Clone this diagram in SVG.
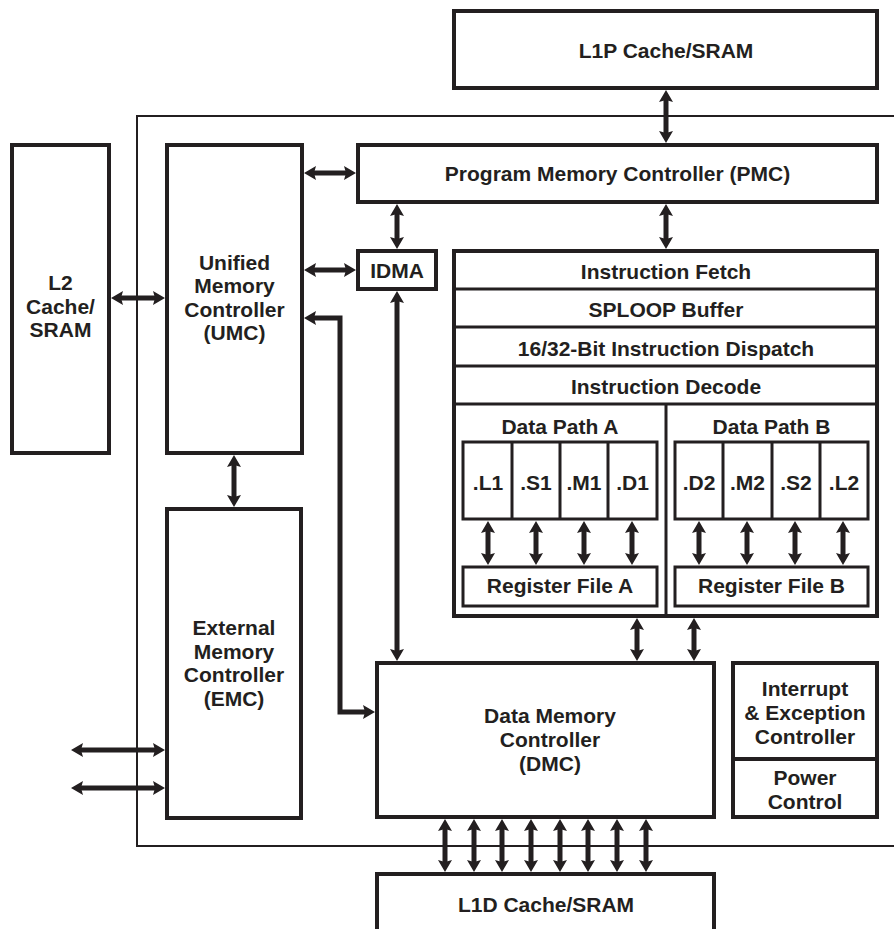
<svg xmlns="http://www.w3.org/2000/svg" width="894" height="929" viewBox="0 0 894 929">
<style>
.box{fill:#fff;stroke:#231f20;stroke-width:4;stroke-linejoin:miter}
.thin{fill:none;stroke:#231f20;stroke-width:3}
.row{fill:none;stroke:#231f20;stroke-width:3}
.t{font-family:"Liberation Sans",Arial,sans-serif;font-weight:bold;font-size:21px;fill:#231f20;text-anchor:middle}
.arr{fill:none;stroke:#231f20;stroke-width:5;marker-start:url(#ah);marker-end:url(#ah)}
</style>
<defs>
<marker id="ah" markerUnits="userSpaceOnUse" markerWidth="12" markerHeight="14" viewBox="0 0 12 14" refX="6" refY="7" orient="auto-start-reverse">
<path d="M0,0 L12,7 L0,14 L2,7 z" fill="#231f20"/>
</marker>
</defs>
<rect width="894" height="929" fill="#fff"/>
<path d="M894,116 H137 V846 H894" fill="none" stroke="#231f20" stroke-width="2"/>

<g id="l1p"><rect class="box" x="454" y="11" width="423" height="77"/><text class="t" x="666" y="57.5">L1P Cache/SRAM</text></g>
<g id="pmc"><rect class="box" x="358" y="145" width="519" height="57"/><text class="t" x="617.5" y="180.5">Program Memory Controller (PMC)</text></g>
<g id="l2"><rect class="box" x="12" y="145" width="97" height="308"/>
<text class="t" x="60.5" y="289.5">L2</text><text class="t" x="60.5" y="313.5">Cache/</text><text class="t" x="60.5" y="337">SRAM</text></g>
<g id="umc"><rect class="box" x="167" y="145" width="135" height="308"/>
<text class="t" x="234.5" y="269.5">Unified</text><text class="t" x="234.5" y="293">Memory</text><text class="t" x="234.5" y="316.5">Controller</text><text class="t" x="234.5" y="340">(UMC)</text></g>
<g id="idma"><rect class="box" x="358" y="251" width="78" height="38"/><text class="t" x="397" y="278">IDMA</text></g>
<g id="core"><rect class="box" x="454" y="251" width="423" height="365"/>
<line class="row" x1="454" y1="289" x2="877" y2="289"/>
<line class="row" x1="454" y1="327" x2="877" y2="327"/>
<line class="row" x1="454" y1="366" x2="877" y2="366"/>
<line class="row" x1="454" y1="404" x2="877" y2="404"/>
<line class="row" x1="666" y1="404" x2="666" y2="616"/>
<text class="t" x="666" y="278.5">Instruction Fetch</text>
<text class="t" x="666" y="316.5">SPLOOP Buffer</text>
<text class="t" x="666" y="355.5">16/32-Bit Instruction Dispatch</text>
<text class="t" x="666" y="393.5">Instruction Decode</text>
<text class="t" x="560" y="433.5">Data Path A</text>
<text class="t" x="771.5" y="433.5">Data Path B</text>
</g>
<g id="unitsA"><rect class="thin" x="463" y="442" width="194" height="77"/>
<line class="thin" x1="512" y1="442" x2="512" y2="519"/><line class="thin" x1="560" y1="442" x2="560" y2="519"/><line class="thin" x1="608" y1="442" x2="608" y2="519"/>
<text class="t" x="488" y="489.5">.L1</text><text class="t" x="536" y="489.5">.S1</text><text class="t" x="584" y="489.5">.M1</text><text class="t" x="632.5" y="489.5">.D1</text></g>
<g id="unitsB"><rect class="thin" x="675" y="442" width="193" height="77"/>
<line class="thin" x1="723" y1="442" x2="723" y2="519"/><line class="thin" x1="772" y1="442" x2="772" y2="519"/><line class="thin" x1="820" y1="442" x2="820" y2="519"/>
<text class="t" x="699" y="489.5">.D2</text><text class="t" x="747.5" y="489.5">.M2</text><text class="t" x="796" y="489.5">.S2</text><text class="t" x="844" y="489.5">.L2</text></g>
<g id="regA"><rect class="thin" x="463" y="567" width="194" height="39"/><text class="t" x="560" y="592.5">Register File A</text></g>
<g id="regB"><rect class="thin" x="675" y="567" width="193" height="39"/><text class="t" x="771.5" y="592.5">Register File B</text></g>
<g id="emc"><rect class="box" x="167" y="509" width="134" height="309"/>
<text class="t" x="234" y="634.5">External</text><text class="t" x="234" y="658.5">Memory</text><text class="t" x="234" y="681.5">Controller</text><text class="t" x="234" y="705.5">(EMC)</text></g>
<g id="dmc"><rect class="box" x="377" y="663" width="337" height="154"/>
<text class="t" x="550" y="722.5">Data Memory</text><text class="t" x="550" y="746.5">Controller</text><text class="t" x="550" y="770.5">(DMC)</text></g>
<g id="intr"><rect class="box" x="733" y="663" width="144" height="96"/>
<text class="t" x="805" y="695.5">Interrupt</text><text class="t" x="805" y="719.5">&amp; Exception</text><text class="t" x="805" y="743.5">Controller</text></g>
<g id="power"><rect class="box" x="733" y="759" width="144" height="58"/>
<text class="t" x="805" y="784.5">Power</text><text class="t" x="805" y="808.5">Control</text></g>
<g id="l1d"><rect class="box" x="377" y="874" width="337" height="80"/><text class="t" x="546" y="911.5">L1D Cache/SRAM</text></g>

<g id="connectors">
<path class="arr" d="M666,96 V137"/>
<path class="arr" d="M310,173 H350"/>
<path class="arr" d="M397,210 V243"/>
<path class="arr" d="M666,210 V243"/>
<path class="arr" d="M310,270 H350"/>
<path class="arr" d="M117,298 H159"/>
<path class="arr" d="M397,297 V655"/>
<path class="arr" d="M234,461 V501"/>
<path class="arr" d="M310,318 H340 V712 H369"/>
<path class="arr" d="M637,624 V655"/>
<path class="arr" d="M694,624 V655"/>
<path class="arr" d="M77,750 H159"/>
<path class="arr" d="M77,788 H159"/>
<path class="arr" d="M445,825 V866"/>
<path class="arr" d="M474,825 V866"/>
<path class="arr" d="M502,825 V866"/>
<path class="arr" d="M531,825 V866"/>
<path class="arr" d="M560,825 V866"/>
<path class="arr" d="M588,825 V866"/>
<path class="arr" d="M617,825 V866"/>
<path class="arr" d="M646,825 V866"/>
<path class="arr" d="M488,527 V559"/>
<path class="arr" d="M536,527 V559"/>
<path class="arr" d="M584,527 V559"/>
<path class="arr" d="M632,527 V559"/>
<path class="arr" d="M699,527 V559"/>
<path class="arr" d="M747,527 V559"/>
<path class="arr" d="M795,527 V559"/>
<path class="arr" d="M843,527 V559"/>
</g>
</svg>
